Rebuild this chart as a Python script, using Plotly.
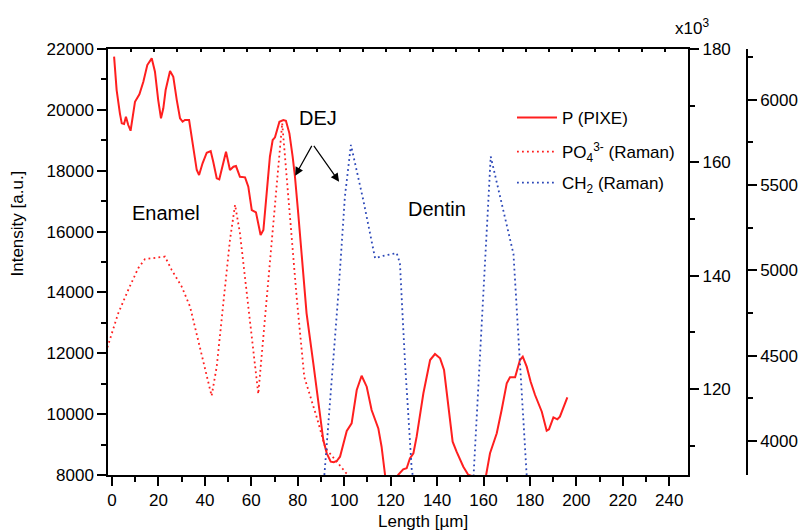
import plotly.graph_objects as go

# ---------------- data ----------------
p_x = [0.9, 2.0, 3.4, 4.2, 5.2, 6.0, 7.0, 8.0, 9.9, 11.8, 13.5, 15.2, 17.1, 18.5, 19.9, 21.1, 22.1, 23.1,
       25.0, 26.4, 27.9, 29.3, 30.4, 31.4, 33.2, 34.7, 36.5, 37.5, 39.0, 40.8, 42.5, 43.6, 45.1, 46.2,
       47.7, 49.1, 50.8, 52.3, 53.4, 55.1, 57.3, 58.7, 60.2, 62.0, 64.0, 65.2, 66.6, 68.0, 69.2, 70.2,
       72.1, 73.8, 74.9, 76.4, 77.8, 78.8, 80.2, 81.7, 83.8, 86.7, 89.6, 91.0, 92.5, 94.2, 95.5, 96.8,
       98.2, 99.5, 101.1, 103.2, 105.4, 107.5, 109.7, 111.8, 114.7, 116.1, 117.6, 119.5, 121.5, 123.2,
       125.4, 126.9, 128.3, 129.8, 131.2, 134.1, 137.0, 139.1, 141.3, 143.0, 144.9, 146.7, 148.4, 151.3,
       153.4, 155.6, 158.3, 161.1, 162.8, 165.7, 167.8, 170.0, 171.4, 173.6, 175.7, 176.9, 178.6, 180.3,
       182.2, 185.1, 187.2, 188.2, 190.1, 191.8, 192.9, 196.1]
p_y = [21750, 20650, 19886, 19557, 19534, 19775, 19501, 19314, 20267, 20510, 20924, 21473, 21693, 21253,
       20322, 19721, 20050, 20651, 21276, 21088, 20322, 19721, 19610, 19666, 19666, 18900, 18022, 17858,
       18243, 18591, 18647, 18295, 17750, 17717, 18187, 18624, 18022, 18131, 18153, 17802, 17781, 17474,
       16708, 16632, 15887, 16051, 17257, 18460, 19008, 19097, 19610, 19666, 19643, 19228, 18460, 17802,
       16600, 15173, 13314, 11671, 10028, 9150, 8713, 8437, 8420, 8460, 8601, 8950, 9450, 9699, 10793,
       11263, 10902, 10136, 9530, 8930, 8000, 7300, 7300, 8000, 8187, 8220, 8548, 8713, 9259, 10686,
       11779, 11976, 11834, 11450, 10245, 9095, 8766, 8273, 8010, 7950, 7300, 7990, 8713, 9370, 10136,
       11013, 11210, 11210, 11779, 11888, 11560, 11066, 10629, 10080, 9456, 9502, 9896, 9831, 9916, 10553]

po4_x = [-2.0, 2.7, 7.0, 11.3, 14.2, 18.5, 22.8, 25.7, 30.0, 33.6, 35.7, 38.6, 41.5, 42.9, 45.1, 47.9,
         50.8, 53.0, 55.1, 58.7, 61.6, 63.0, 73.3, 79.5, 82.8, 88.1, 91.9, 101.0, 106.0]
po4_y = [127.36, 133.39, 137.51, 141.34, 142.93, 143.21, 143.38, 141.04, 138.09, 134.56, 131.03, 126.33,
         121.62, 118.80, 123.97, 134.56, 146.33, 152.51, 147.52, 134.56, 123.97, 119.15, 166.93, 136.32,
         122.15, 115.14, 109.62, 105.11, 103.5]

ch2_x = [91.3, 94.6, 97.5, 100.3, 102.9, 108.2, 113.3, 116.8, 122.6, 124.0, 126.2, 129.1, 135.0, 150.0,
         155.7, 163.1, 172.9, 178.7]
ch2_y = [3772, 4358, 4866, 5432, 5735, 5413, 5071, 5085, 5101, 5042, 4456, 3830, 3400, 3400,
         3795, 5667, 5096, 3772]

assert len(p_x) == len(p_y) and len(po4_x) == len(po4_y) and len(ch2_x) == len(ch2_y)

x_ticks = [0, 20, 40, 60, 80, 100, 120, 140, 160, 180, 200, 220, 240]
y1_ticks = [8000, 10000, 12000, 14000, 16000, 18000, 20000, 22000]
y2_ticks = [120, 140, 160, 180]
y3_ticks = [4000, 4500, 5000, 5500, 6000]

FONT = "Liberation Sans, Arial, sans-serif"
RED = "#ff1f1f"
BLUE = "#2c48b8"

fig = go.Figure()
fig.add_trace(go.Scatter(x=p_x, y=p_y, mode="lines", name="P (PIXE)", legend="legend",
                         line=dict(color=RED, width=2), yaxis="y"))
fig.add_trace(go.Scatter(x=po4_x, y=po4_y, mode="lines", name="PO<sub>4</sub><sup>3-</sup> (Raman)",
                         legend="legend2",
                         line=dict(color=RED, width=1.8, dash="1.8px,3.2px"), yaxis="y2"))
fig.add_trace(go.Scatter(x=ch2_x, y=ch2_y, mode="lines", name="CH<sub>2</sub> (Raman)", legend="legend3",
                         line=dict(color=BLUE, width=1.8, dash="1.8px,3.2px"), yaxis="y3"))

W, H = 802, 531
ML, MR, MT, MB = 108, 55, 49, 56
PW = W - ML - MR
PH = H - MT - MB
x_right_px = 688.3
dom_end = (x_right_px - ML) / PW
x_range = [(ML - 112) / 2.322, (x_right_px - 112) / 2.322]

axis_common = dict(showgrid=False, zeroline=False, showline=True, linecolor="black", linewidth=1.5,
                   tickcolor="black", tickwidth=1.5, automargin=False, tickformat="d",
                   tickfont=dict(family=FONT, size=17, color="black"))


def leg(py):
    return dict(x=(512 - ML) / PW, y=(475 - py) / PH, xanchor="left", yanchor="middle",
                bgcolor="rgba(0,0,0,0)", font=dict(family=FONT, size=17, color="black"),
                itemwidth=40)


fig.update_layout(
    width=W, height=H, margin=dict(l=ML, r=MR, t=MT, b=MB, autoexpand=False),
    paper_bgcolor="white", plot_bgcolor="white",
    font=dict(family=FONT, size=17, color="black"),
    xaxis=dict(domain=[0, dom_end], range=x_range, tickvals=x_ticks, ticks="outside", ticklen=9,
               minor=dict(dtick=10, tick0=0, ticks="outside", ticklen=5, tickcolor="black", tickwidth=1.5),
               **axis_common),
    xaxis2=dict(domain=[0, dom_end], range=x_range, overlaying="x", side="top", anchor="y",
                tick0=x_range[1], dtick=10, ticks="inside", ticklen=3, showticklabels=False,
                **axis_common),
    yaxis=dict(range=[8000, 22000], tickvals=y1_ticks, ticks="outside", ticklen=9,
               minor=dict(dtick=1000, ticks="outside", ticklen=5, tickcolor="black", tickwidth=1.5),
               **axis_common),
    yaxis2=dict(range=[104.85, 180], overlaying="y", side="right", anchor="x", tickvals=y2_ticks,
                ticks="outside", ticklen=9,
                minor=dict(dtick=10, tick0=0, ticks="outside", ticklen=5, tickcolor="black", tickwidth=1.5),
                **axis_common),
    yaxis3=dict(range=[3801, 6297], overlaying="y", side="right", anchor="free", position=1.0,
                tickvals=y3_ticks, ticks="outside", ticklen=9,
                minor=dict(dtick=250, tick0=0, ticks="outside", ticklen=5, tickcolor="black", tickwidth=1.5),
                **axis_common),
    legend=leg(118),
    legend2=leg(152),
    legend3=leg(183),
    showlegend=True,
)

# dummy trace so xaxis2 is drawn
fig.add_trace(go.Scatter(x=[None], y=[None], xaxis="x2", yaxis="y", showlegend=False, hoverinfo="skip"))

ann = []
ann.append(dict(text="Intensity [a.u.]", xref="paper", yref="paper", x=(17 - ML) / PW, y=(475 - 223.5) / PH,
                textangle=-90, showarrow=False, font=dict(family=FONT, size=17), xanchor="center", yanchor="middle"))
ann.append(dict(text="Length [µm]", xref="paper", yref="paper", x=(423 - ML) / PW, y=(475 - 521) / PH,
                showarrow=False, font=dict(family=FONT, size=17), xanchor="center", yanchor="middle"))
ann.append(dict(text="x10<sup>3</sup>", xref="paper", yref="paper", x=(692 - ML) / PW, y=(475 - 27) / PH,
                showarrow=False, font=dict(family=FONT, size=17), xanchor="center", yanchor="middle"))
ann.append(dict(text="Enamel", x=23.3, y=16626, xref="x", yref="y", showarrow=False,
                font=dict(family=FONT, size=20), xanchor="center", yanchor="middle"))
ann.append(dict(text="Dentin", x=139.8, y=16741, xref="x", yref="y", showarrow=False,
                font=dict(family=FONT, size=20), xanchor="center", yanchor="middle"))
ann.append(dict(text="DEJ", x=88.7, y=19731, xref="x", yref="y", showarrow=False,
                font=dict(family=FONT, size=20), xanchor="center", yanchor="middle"))
ann.append(dict(text="", x=78.9, y=17835, xref="x", yref="y", showarrow=True, ax=17.4, ay=-31.4,
                arrowhead=2, arrowsize=1.4, arrowwidth=1.2, arrowcolor="black", standoff=0))
ann.append(dict(text="", x=97.8, y=17638, xref="x", yref="y", showarrow=True, ax=-26.3, ay=-37.4,
                arrowhead=2, arrowsize=1.4, arrowwidth=1.2, arrowcolor="black", standoff=0))
fig.update_layout(annotations=ann)

fig.write_html("out.html", config={"displayModeBar": False},
               post_script="document.body.style.margin='0px';")
